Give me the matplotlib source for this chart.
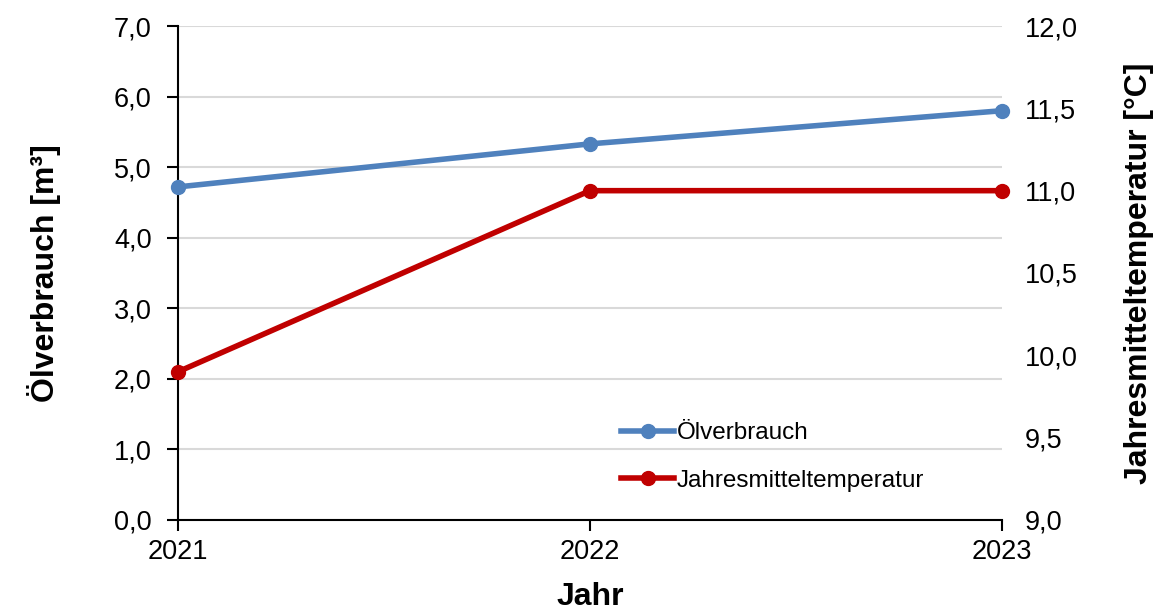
import matplotlib.pyplot as plt
from matplotlib.ticker import FuncFormatter, MultipleLocator

years = [2021, 2022, 2023]
oelverbrauch = [4.72, 5.33, 5.80]
temperatur = [9.9, 11.0, 11.0]

plt.rcParams['font.family'] = ['Liberation Sans', 'DejaVu Sans']

BLUE = "#4f81bd"
RED = "#c00000"


def komma(v, pos):
    return f"{v:.1f}".replace(".", ",")


fig = plt.figure(figsize=(11.55, 6.11), dpi=100)
ax = fig.add_axes([0.1541, 0.149, 0.8675 - 0.1541, 0.9574 - 0.149])
ax2 = ax.twinx()

l1, = ax.plot(years, oelverbrauch, color=BLUE, lw=4, marker="o", ms=10,
              label="Ölverbrauch", clip_on=False, zorder=3)
l2, = ax2.plot(years, temperatur, color=RED, lw=4, marker="o", ms=10,
               label="Jahresmitteltemperatur", clip_on=False, zorder=3)

ax.set_xlim(2021, 2023)
ax.set_ylim(0, 7)
ax2.set_ylim(9, 12)
ax.set_xticks(years)
ax.set_xticklabels([str(y) for y in years])
ax.yaxis.set_major_locator(MultipleLocator(1))
ax2.yaxis.set_major_locator(MultipleLocator(0.5))
ax.yaxis.set_major_formatter(FuncFormatter(komma))
ax2.yaxis.set_major_formatter(FuncFormatter(komma))

ax.grid(axis="y", color="#d9d9d9", lw=1.5, zorder=0)
ax.set_axisbelow(True)

for a in (ax, ax2):
    for s in ("top", "right"):
        a.spines[s].set_visible(False)
ax2.spines["left"].set_visible(False)
ax2.spines["bottom"].set_visible(False)
for s in ("left", "bottom"):
    ax.spines[s].set_linewidth(1.5)

ax.tick_params(axis="y", direction="out", length=8, width=1.5, pad=11, labelsize=19.5)
ax.tick_params(axis="x", direction="out", length=8, width=1.5, pad=6, labelsize=19.5)
ax2.tick_params(axis="y", length=0, pad=16.5, labelsize=19.5)

ax.set_xlabel("Jahr", fontsize=23, fontweight="bold", labelpad=12)
ax.set_ylabel("Ölverbrauch [m³]", fontsize=23, fontweight="bold", labelpad=38)
ax2.set_ylabel("Jahresmitteltemperatur [°C]", fontsize=23, fontweight="bold", labelpad=33)

ax2.legend(handles=[l1, l2], loc="upper left", bbox_to_anchor=(0.527, 0.329),
           bbox_transform=fig.transFigure, frameon=False, fontsize=17.5,
           handlelength=2.2, handletextpad=0.1, labelspacing=1.05, borderpad=0)

fig.savefig("out.png", dpi=100)
